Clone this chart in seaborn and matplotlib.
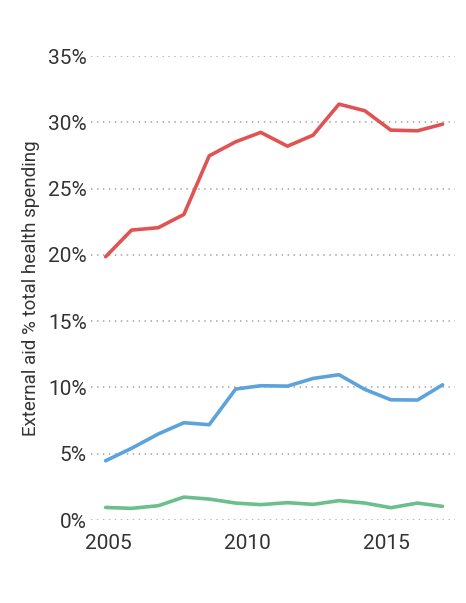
import pandas as pd
import numpy as np
import seaborn as sns
import matplotlib.pyplot as plt

# values
years = [2004.91, 2005.84, 2006.80, 2007.72, 2008.63, 2009.58, 2010.48,
         2011.44, 2012.36, 2013.29, 2014.22, 2015.15, 2016.11, 2017.01]
red = [19.86, 21.87, 22.05, 23.05, 27.47, 28.53, 29.24,
       28.20, 29.03, 31.37, 30.87, 29.41, 29.36, 29.86]
blue = [4.47, 5.41, 6.49, 7.34, 7.19, 9.88, 10.13,
        10.10, 10.68, 10.96, 9.85, 9.07, 9.05, 10.20]
green = [0.95, 0.88, 1.08, 1.73, 1.58, 1.28, 1.16,
         1.31, 1.18, 1.46, 1.28, 0.93, 1.28, 1.03]
yticks = [0, 5, 10, 15, 20, 25, 30, 35]
xticks = [2005, 2010, 2015]

df = pd.DataFrame({
    'year': years * 3,
    'value': red + blue + green,
    'series': ['red'] * 14 + ['blue'] * 14 + ['green'] * 14,
})
colors = {'red': '#e05353', 'blue': '#5ca3dc', 'green': '#6bbf8a'}

sns.set_style('white')
plt.rcParams['font.family'] = ['Roboto', 'DejaVu Sans']

fig = plt.figure(figsize=(4.66, 6.03), dpi=100)
ax = fig.add_axes([0.195, 0.1376, 0.781, 0.7695])

#draw grid first
for t in yticks:
    ax.axhline(t, color='#b0b0b0', lw=1.3, linestyle=(0, (0.8, 2.5)), zorder=0)

sns.lineplot(data=df, x='year', y='value', hue='series', palette=colors,
             lw=2.6, legend=False, ax=ax, clip_on=False)

ax.set_xlim(2004.38, 2017.45)
ax.set_ylim(0, 35)
ax.set_yticks(yticks)
ax.set_yticklabels([f'{t}%' for t in yticks])
ax.set_xticks(xticks)
ax.set_xticklabels([str(t) for t in xticks])
ax.tick_params(axis='y', length=0, pad=3, labelsize=15, labelcolor='#333333')
ax.tick_params(axis='x', length=0, pad=10, labelsize=15, labelcolor='#333333')
ax.set_xlabel('')
ax.set_ylabel('External aid % total health spending', fontsize=13.5,
              color='#333333', labelpad=6)
sns.despine(ax=ax, left=True, bottom=True)

fig.savefig('out.png', dpi=100)
